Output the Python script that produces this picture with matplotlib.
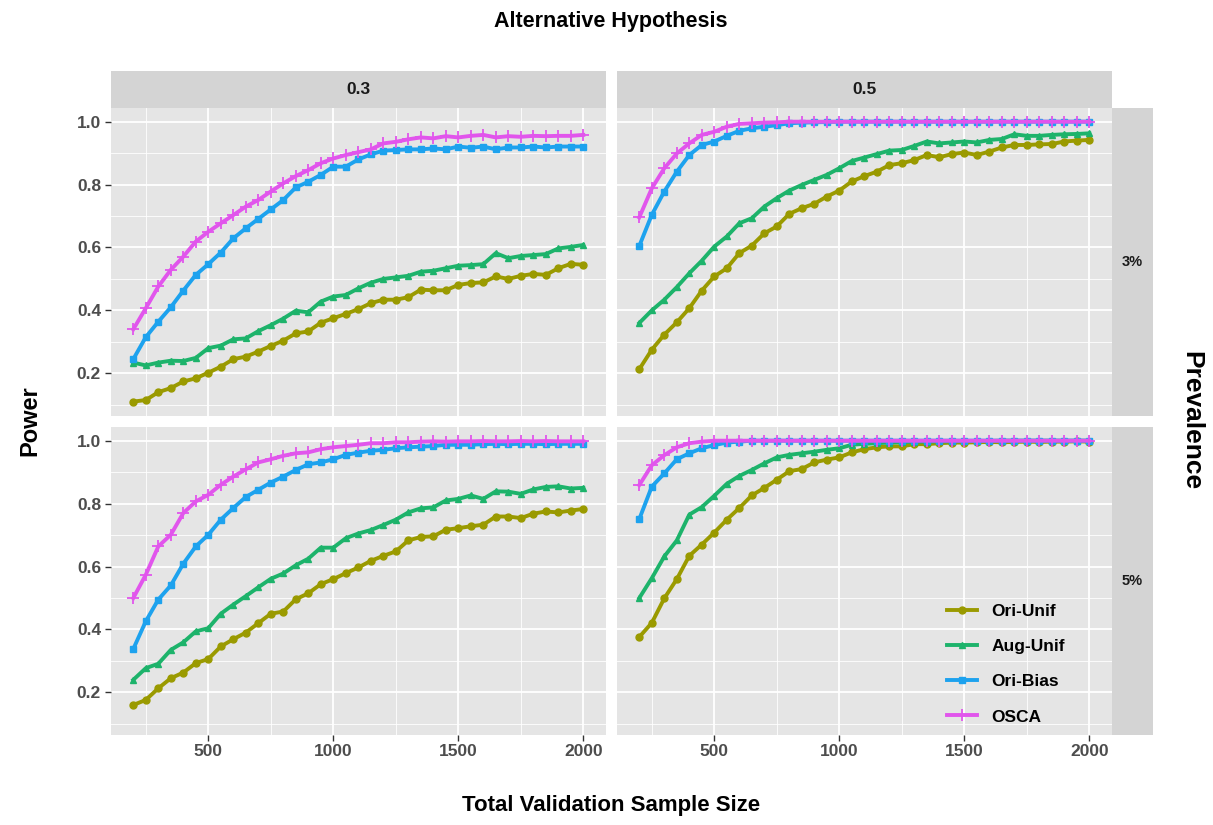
import numpy as np
import matplotlib
matplotlib.use("Agg")
import matplotlib.pyplot as plt

plt.rcParams['font.family'] = ['Liberation Sans', 'DejaVu Sans']
plt.rcParams['font.weight'] = 'bold'

# sample sizes 200..2000 by 50
sizes = list(range(200, 2001, 50))

# panel 0.3 / 3%
ori_unif_03_3 = [0.110, 0.115, 0.140, 0.153, 0.174, 0.184, 0.202, 0.221, 0.245, 0.253, 0.269, 0.287, 0.304,
                 0.327, 0.333, 0.361, 0.375, 0.389, 0.404, 0.423, 0.434, 0.434, 0.442, 0.466, 0.464, 0.464,
                 0.481, 0.487, 0.489, 0.508, 0.500, 0.510, 0.516, 0.513, 0.534, 0.548, 0.545]
aug_unif_03_3 = [0.234, 0.225, 0.234, 0.240, 0.239, 0.249, 0.280, 0.288, 0.308, 0.311, 0.334, 0.353, 0.374,
                 0.399, 0.394, 0.428, 0.444, 0.449, 0.470, 0.488, 0.500, 0.505, 0.510, 0.523, 0.526, 0.534,
                 0.542, 0.544, 0.547, 0.582, 0.566, 0.573, 0.576, 0.579, 0.597, 0.602, 0.608]
ori_bias_03_3 = [0.245, 0.315, 0.364, 0.410, 0.463, 0.513, 0.547, 0.584, 0.629, 0.661, 0.691, 0.721, 0.751,
                 0.791, 0.809, 0.831, 0.857, 0.857, 0.880, 0.896, 0.908, 0.910, 0.912, 0.912, 0.915, 0.912,
                 0.921, 0.917, 0.921, 0.912, 0.918, 0.918, 0.921, 0.918, 0.921, 0.921, 0.921]
osca_03_3 = [0.340, 0.407, 0.476, 0.529, 0.571, 0.619, 0.650, 0.677, 0.703, 0.730, 0.751, 0.778, 0.804,
             0.827, 0.846, 0.868, 0.883, 0.894, 0.903, 0.912, 0.931, 0.936, 0.944, 0.950, 0.947, 0.954,
             0.950, 0.955, 0.958, 0.950, 0.954, 0.952, 0.955, 0.954, 0.955, 0.955, 0.958]

# panel 0.5 / 3%
ori_unif_05_3 = [0.213, 0.275, 0.323, 0.362, 0.407, 0.463, 0.508, 0.534, 0.582, 0.606, 0.645, 0.667, 0.707,
                 0.725, 0.739, 0.762, 0.781, 0.810, 0.827, 0.841, 0.862, 0.868, 0.878, 0.894, 0.887, 0.897,
                 0.902, 0.894, 0.905, 0.918, 0.926, 0.926, 0.928, 0.929, 0.937, 0.940, 0.942]
aug_unif_05_3 = [0.360, 0.400, 0.434, 0.474, 0.518, 0.558, 0.603, 0.635, 0.677, 0.693, 0.730, 0.757, 0.781,
                 0.799, 0.815, 0.831, 0.852, 0.875, 0.886, 0.897, 0.908, 0.910, 0.923, 0.937, 0.931, 0.934,
                 0.937, 0.934, 0.942, 0.945, 0.960, 0.955, 0.955, 0.958, 0.960, 0.961, 0.963]
ori_bias_05_3 = [0.605, 0.704, 0.778, 0.841, 0.894, 0.926, 0.937, 0.955, 0.971, 0.979, 0.984, 0.989, 0.995,
                 0.997, 0.998, 0.999, 1.000, 1.000, 1.000, 1.000, 1.000, 1.000, 1.000, 1.000, 1.000, 1.000,
                 1.000, 1.000, 1.000, 1.000, 1.000, 1.000, 1.000, 1.000, 1.000, 1.000, 1.000]
osca_05_3 = [0.696, 0.788, 0.852, 0.899, 0.931, 0.958, 0.968, 0.984, 0.993, 0.995, 0.997, 0.998, 1.000,
             1.000, 1.000, 1.000, 1.000, 1.000, 1.000, 1.000, 1.000, 1.000, 1.000, 1.000, 1.000, 1.000,
             1.000, 1.000, 1.000, 1.000, 1.000, 1.000, 1.000, 1.000, 1.000, 1.000, 1.000]

# panel 0.3 / 5%
ori_unif_03_5 = [0.160, 0.176, 0.213, 0.245, 0.263, 0.293, 0.306, 0.346, 0.369, 0.390, 0.420, 0.450, 0.457,
                 0.496, 0.515, 0.544, 0.560, 0.579, 0.597, 0.618, 0.634, 0.648, 0.683, 0.694, 0.696, 0.717,
                 0.722, 0.728, 0.733, 0.759, 0.759, 0.754, 0.768, 0.775, 0.772, 0.778, 0.783]
aug_unif_03_5 = [0.240, 0.277, 0.291, 0.335, 0.359, 0.394, 0.404, 0.450, 0.479, 0.506, 0.534, 0.561, 0.578,
                 0.604, 0.625, 0.660, 0.660, 0.690, 0.705, 0.716, 0.732, 0.749, 0.772, 0.785, 0.788, 0.810,
                 0.815, 0.826, 0.815, 0.839, 0.838, 0.831, 0.845, 0.853, 0.855, 0.848, 0.850]
ori_bias_03_5 = [0.338, 0.426, 0.495, 0.540, 0.609, 0.664, 0.701, 0.749, 0.786, 0.821, 0.844, 0.867, 0.886,
                 0.907, 0.925, 0.931, 0.941, 0.955, 0.962, 0.968, 0.971, 0.976, 0.979, 0.981, 0.983, 0.987,
                 0.987, 0.987, 0.989, 0.990, 0.989, 0.990, 0.990, 0.989, 0.990, 0.990, 0.990]
osca_03_5 = [0.500, 0.574, 0.664, 0.701, 0.770, 0.807, 0.828, 0.860, 0.886, 0.909, 0.931, 0.941, 0.952,
             0.960, 0.963, 0.973, 0.979, 0.983, 0.987, 0.992, 0.992, 0.995, 0.995, 0.997, 0.998, 0.997,
             0.998, 0.998, 0.999, 0.998, 0.998, 0.999, 0.998, 0.999, 0.998, 0.998, 0.998]

# panel 0.5 / 5%
ori_unif_05_5 = [0.376, 0.421, 0.499, 0.560, 0.634, 0.670, 0.708, 0.749, 0.786, 0.826, 0.850, 0.876, 0.903,
                 0.910, 0.931, 0.940, 0.947, 0.963, 0.973, 0.979, 0.982, 0.982, 0.989, 0.989, 0.992, 0.994,
                 0.994, 0.995, 0.996, 0.995, 0.996, 0.997, 0.996, 0.997, 0.997, 0.998, 0.997]
aug_unif_05_5 = [0.500, 0.563, 0.632, 0.683, 0.765, 0.789, 0.825, 0.863, 0.888, 0.907, 0.928, 0.947, 0.955,
                 0.960, 0.965, 0.971, 0.976, 0.987, 0.990, 0.992, 0.994, 0.995, 0.997, 0.997, 0.998, 0.998,
                 0.999, 0.999, 0.999, 1.000, 1.000, 1.000, 1.000, 1.000, 1.000, 1.000, 1.000]
ori_bias_05_5 = [0.751, 0.854, 0.896, 0.941, 0.960, 0.976, 0.986, 0.994, 0.997, 1.000, 1.000, 1.000, 1.000,
                 1.000, 1.000, 1.000, 1.000, 1.000, 1.000, 1.000, 1.000, 1.000, 1.000, 1.000, 1.000, 1.000,
                 1.000, 1.000, 1.000, 1.000, 1.000, 1.000, 1.000, 1.000, 1.000, 1.000, 1.000]
osca_05_5 = [0.859, 0.922, 0.954, 0.979, 0.992, 0.997, 1.000, 1.000, 1.000, 1.000, 1.000, 1.000, 1.000,
             1.000, 1.000, 1.000, 1.000, 1.000, 1.000, 1.000, 1.000, 1.000, 1.000, 1.000, 1.000, 1.000,
             1.000, 1.000, 1.000, 1.000, 1.000, 1.000, 1.000, 1.000, 1.000, 1.000, 1.000]

methods = ['Ori-Unif', 'Aug-Unif', 'Ori-Bias', 'OSCA']
colors = ['#9A9A00', '#1DB36B', '#1DA2EE', '#E155EC']
markers = ['o', '^', 's', '+']
col_labels = ['0.3', '0.5']
row_labels = ['3%', '5%']
panels = {
    (0, 0): [ori_unif_03_3, aug_unif_03_3, ori_bias_03_3, osca_03_3],
    (0, 1): [ori_unif_05_3, aug_unif_05_3, ori_bias_05_3, osca_05_3],
    (1, 0): [ori_unif_03_5, aug_unif_03_5, ori_bias_03_5, osca_03_5],
    (1, 1): [ori_unif_05_5, aug_unif_05_5, ori_bias_05_5, osca_05_5],
}

W, H = 1213, 825
fig = plt.figure(figsize=(W / 100, H / 100), dpi=100)

def px_axes(x0, y0, x1, y1):
    return fig.add_axes([x0 / W, 1 - y1 / H, (x1 - x0) / W, (y1 - y0) / H])

col_x = [(110.8, 605.8), (616.8, 1111.8)]
row_y = [(107.7, 415.6), (426.7, 734.7)]
panel_bg = '#E5E5E5'
strip_bg = '#D4D4D4'

for (r, c), series in panels.items():
    x0, x1 = col_x[c]
    y0, y1 = row_y[r]
    ax = px_axes(x0, y0, x1, y1)
    ax.set_facecolor(panel_bg)
    for s in ax.spines.values():
        s.set_visible(False)
    ax.set_xlim(110, 2090)
    ax.set_ylim(0.0655, 1.0445)
    ax.set_xticks([500, 1000, 1500, 2000])
    ax.set_xticks([250, 750, 1250, 1750], minor=True)
    ax.set_yticks([0.2, 0.4, 0.6, 0.8, 1.0])
    ax.set_yticks([0.1, 0.3, 0.5, 0.7, 0.9], minor=True)
    ax.grid(which='major', color='white', lw=1.3)
    ax.grid(which='minor', color='white', lw=0.6)
    ax.set_axisbelow(True)
    ax.tick_params(which='minor', length=0)
    ax.tick_params(which='major', length=4, width=1, color='#333333',
                   labelsize=12.5, labelcolor='#4D4D4D', pad=3)
    if c == 0:
        ax.set_yticklabels(['0.2', '0.4', '0.6', '0.8', '1.0'], fontweight='bold')
    else:
        ax.tick_params(axis='y', left=False, labelleft=False)
    if r == 1:
        ax.set_xticklabels(['500', '1000', '1500', '2000'], fontweight='bold')
    else:
        ax.tick_params(axis='x', bottom=False, labelbottom=False)

    for vals, name, colr, mk in zip(series, methods, colors, markers):
        if mk == '+':
            ax.plot(sizes, vals, color=colr, lw=2.8, marker=mk, ms=9, mew=1.3, label=name)
        else:
            ax.plot(sizes, vals, color=colr, lw=2.8, marker=mk, ms=5, label=name)

    if r == 1 and c == 1:
        leg = ax.legend(loc='upper left', bbox_to_anchor=(947 / W, 1 - 604 / H),
                        bbox_transform=fig.transFigure, frameon=False, borderpad=0,
                        borderaxespad=0, handlelength=1.75, handletextpad=0.8,
                        labelspacing=1.15, prop={'weight': 'bold', 'size': 12.5})

    # right strip
    if c == 1:
        sax = px_axes(1111.8, y0, 1153, y1)
        sax.set_facecolor(strip_bg)
        sax.set_xticks([])
        sax.set_yticks([])
        for s in sax.spines.values():
            s.set_visible(False)
        sax.text(0.5, 0.5, row_labels[r], transform=sax.transAxes, ha='center', va='center',
                 fontsize=10.5, fontweight='bold', color='#1A1A1A')

# top strips
for c in range(2):
    x0, x1 = col_x[c]
    sax = px_axes(x0, 71, x1, 107.7)
    sax.set_facecolor(strip_bg)
    sax.set_xticks([])
    sax.set_yticks([])
    for s in sax.spines.values():
        s.set_visible(False)
    sax.text(0.5, 0.5, col_labels[c], transform=sax.transAxes, ha='center', va='center',
             fontsize=12.5, fontweight='bold', color='#1A1A1A')

fig.text(611 / W, 1 - 21 / H, 'Alternative Hypothesis', ha='center', va='center',
         fontsize=15.5, fontweight='bold')
fig.text(611 / W, 1 - 806 / H, 'Total Validation Sample Size', ha='center', va='center',
         fontsize=16, fontweight='bold')
fig.text(30 / W, 1 - 421 / H, 'Power', ha='center', va='center', rotation=90,
         fontsize=17, fontweight='bold')
fig.text(1191 / W, 1 - 421 / H, 'Prevalence', ha='center', va='center', rotation=270,
         fontsize=19, fontweight='bold')

fig.savefig('out.png', dpi=100)
